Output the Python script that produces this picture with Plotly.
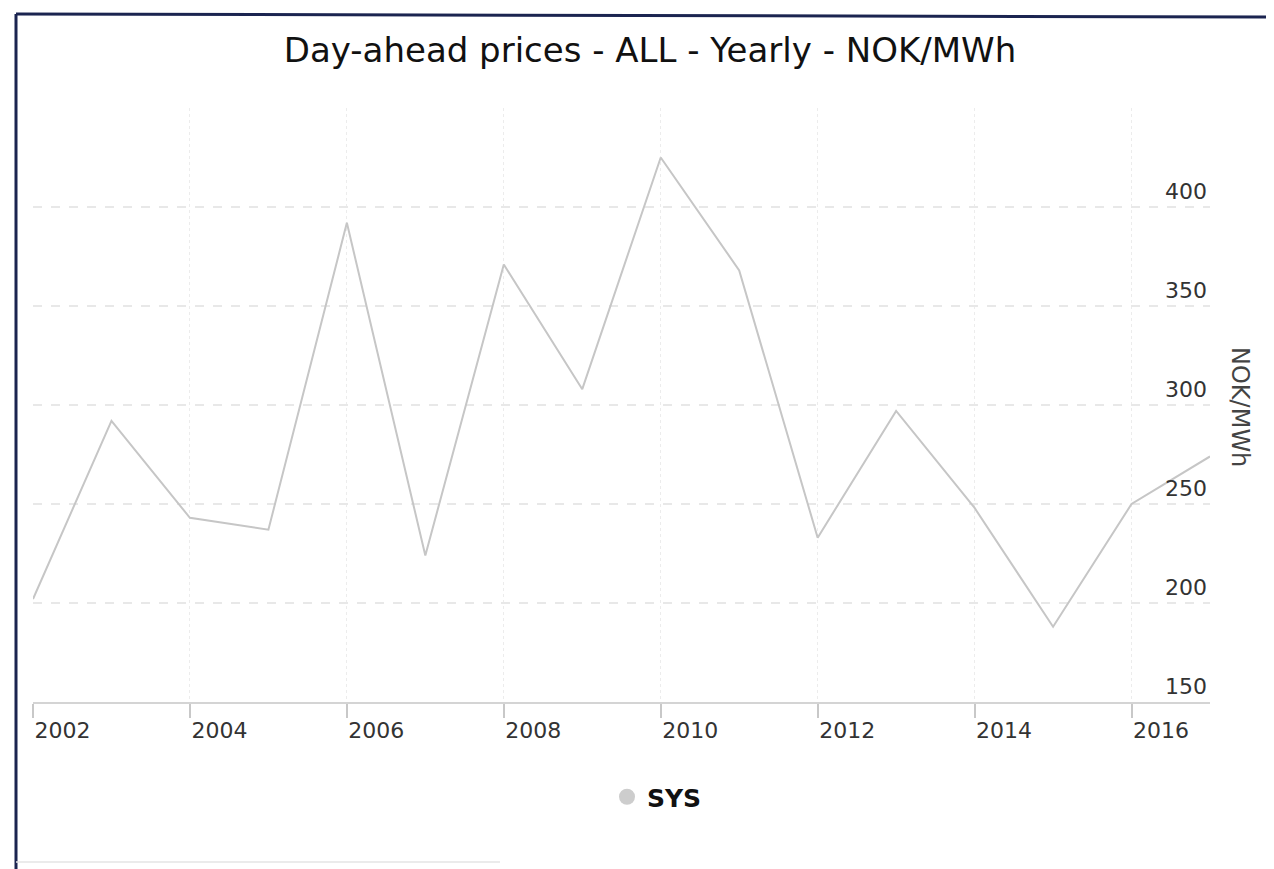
import plotly.graph_objects as go

years = list(range(2002, 2018))
sys_prices = [202, 292, 243, 237, 392, 224, 371, 308, 425, 368, 233, 297, 248, 188, 250, 274]
series_name = "SYS"
chart_title = "Day-ahead prices - ALL - Yearly - NOK/MWh"
y_title = "NOK/MWh"

# the page body adds an 8px offset; figure sized to fill the rest of the window
OFF = 8
W, H = 1274 - OFF, 869 - OFF
# plot area in page pixels: x 33..1210, y 108..702
L, R, T, B = 33 - OFF, 1274 - 1210, 108 - OFF, 869 - 702
pw, ph = W - L - R, H - T - B


def px2paper(x, y):
    """page pixel -> paper coordinates"""
    return (x - OFF - L) / pw, (H - B - (y - OFF)) / ph


fig = go.Figure()
fig.add_trace(go.Scatter(
    x=years, y=sys_prices, mode="lines", name=series_name,
    line=dict(color="#c6c6c6", width=2), showlegend=False, legendgroup="sys",
))
fig.add_trace(go.Scatter(
    x=[None], y=[None], mode="markers", name=series_name, legendgroup="sys",
    marker=dict(color="#cdcdcd", size=16, symbol="circle"), showlegend=True,
))

# page frame from the scanned sheet
x0, y0 = px2paper(16, 14)
x1, y1 = px2paper(1274, 17)
_, yb = px2paper(16, 869)
_, ybot = px2paper(16, 862)
fig.add_shape(type="line", xref="paper", yref="paper", x0=x0, y0=y0, x1=x1, y1=y1,
              line=dict(color="#1b2450", width=3))
fig.add_shape(type="line", xref="paper", yref="paper", x0=x0, y0=y0, x1=x0, y1=yb,
              line=dict(color="#1b2450", width=3))
fig.add_shape(type="line", xref="paper", yref="paper", x0=x0, y0=ybot, x1=px2paper(500, 0)[0], y1=ybot,
              line=dict(color="#e4e4e4", width=1.5))

fig.add_annotation(
    text=y_title, xref="paper", yref="paper",
    x=px2paper(1240, 0)[0], y=px2paper(0, 407)[1],
    xanchor="center", yanchor="middle",
    showarrow=False, textangle=90,
    font=dict(family="DejaVu Sans", size=24, color="#444"),
)

fig.update_layout(
    width=W, height=H,
    margin=dict(l=L, r=R, t=T, b=B),
    paper_bgcolor="white", plot_bgcolor="white",
    title=dict(text=chart_title, x=(650 - OFF) / W, xanchor="center", y=1 - (50 - OFF) / H,
               yanchor="middle", yref="container",
               font=dict(family="DejaVu Sans", size=34, color="#111")),
    font=dict(family="DejaVu Sans", color="#333"),
    showlegend=True,
    legend=dict(orientation="h", x=px2paper(657, 0)[0], xanchor="center",
                y=px2paper(0, 797)[1], yanchor="middle",
                font=dict(family="DejaVu Sans", size=25, color="#111", weight="bold"),
                itemsizing="trace"),
    xaxis=dict(
        range=[2002, 2017], tick0=2002, dtick=2, tickformat="d",
        showgrid=True, gridcolor="#ececec", griddash="dot", gridwidth=1,
        showline=True, linecolor="#d4d4d4", linewidth=1.5,
        ticks="outside", ticklen=14, tickcolor="#c8c8c8", tickwidth=1.5,
        ticklabelposition="outside right", ticklabelstandoff=8,
        tickfont=dict(family="DejaVu Sans", size=22, color="#333"),
        zeroline=False,
    ),
    yaxis=dict(
        range=[150, 450], side="right",
        showgrid=True, gridcolor="#e8e8e8", griddash="dash", gridwidth=1.5,
        ticklabelposition="inside top", ticks="",
        tickfont=dict(family="DejaVu Sans", size=22, color="#333"),
        tickvals=[150, 200, 250, 300, 350, 400, 450],
        ticktext=["150", "200", "250", "300", "350", "400", ""],
        zeroline=False, showline=False,
    ),
)

fig.write_html("out.html")
